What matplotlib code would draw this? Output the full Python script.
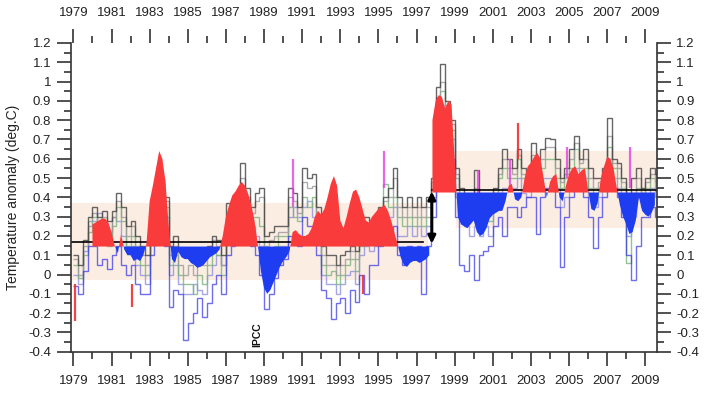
import numpy as np
import matplotlib
matplotlib.use("Agg")
import matplotlib.pyplot as plt
from matplotlib.ticker import MultipleLocator, FuncFormatter

plt.rcParams['font.family'] = ['Liberation Sans', 'DejaVu Sans']

# ---- data ----
# quarterly step series, one row per year 1979..2009 (Q1..Q4)
start_year = 1979
s_black = [
    0.10, 0.05, 0.18, 0.30,   # 1979
    0.35, 0.30, 0.33, 0.28,
    0.33, 0.42, 0.35, 0.25,
    0.28, 0.20, 0.15, 0.10,
    0.35, 0.45, 0.50, 0.40,
    0.15, 0.20, 0.12, 0.10,   # 1984
    0.10, 0.12, 0.08, 0.12,
    0.15, 0.20, 0.18, 0.10,
    0.37, 0.30, 0.35, 0.58,
    0.45, 0.35, 0.42, 0.45,
    0.20, 0.22, 0.25, 0.25,   # 1989
    0.25, 0.45, 0.42, 0.35,
    0.55, 0.50, 0.52, 0.35,
    0.15, 0.10, 0.10, 0.05,
    0.10, 0.12, 0.15, 0.12,
    0.25, 0.30, 0.28, 0.30,   # 1994
    0.35, 0.40, 0.45, 0.55,
    0.40, 0.35, 0.40, 0.35,
    0.40, 0.35, 0.40, 0.50,
    0.97, 1.09, 0.90, 0.80,
    0.55, 0.45, 0.40, 0.35,   # 1999
    0.54, 0.40, 0.37, 0.35,
    0.45, 0.55, 0.65, 0.60,
    0.55, 0.65, 0.55, 0.50,
    0.68, 0.60, 0.65, 0.71,
    0.70, 0.60, 0.50, 0.55,   # 2004
    0.65, 0.72, 0.60, 0.65,
    0.55, 0.50, 0.50, 0.55,
    0.81, 0.60, 0.58, 0.50,
    0.35, 0.50, 0.55, 0.45,
    0.50, 0.55, 0.52, 0.45,   # 2009
]
s_gray = [
    0.08, 0.00, 0.15, 0.28,
    0.32, 0.22, 0.30, 0.22,
    0.30, 0.38, 0.30, 0.20,
    0.25, 0.15, 0.10, 0.05,
    0.32, 0.42, 0.48, 0.38,
    0.10, 0.15, 0.05, 0.00,
    0.05, 0.00, 0.05, 0.05,
    0.10, 0.18, 0.15, 0.05,
    0.30, 0.25, 0.33, 0.50,
    0.40, 0.32, 0.38, 0.40,
    0.15, 0.18, 0.20, 0.22,
    0.22, 0.40, 0.38, 0.32,
    0.48, 0.45, 0.46, 0.30,
    0.10, 0.05, 0.05, 0.00,
    0.05, 0.08, 0.12, 0.08,
    0.20, 0.25, 0.24, 0.25,
    0.32, 0.38, 0.40, 0.50,
    0.35, 0.30, 0.35, 0.30,
    0.35, 0.30, 0.35, 0.48,
    0.92, 1.00, 0.88, 0.78,
    0.52, 0.40, 0.35, 0.32,
    0.45, 0.35, 0.33, 0.32,
    0.42, 0.52, 0.60, 0.55,
    0.52, 0.62, 0.52, 0.48,
    0.62, 0.55, 0.60, 0.66,
    0.66, 0.55, 0.48, 0.52,
    0.60, 0.68, 0.58, 0.60,
    0.50, 0.45, 0.48, 0.52,
    0.72, 0.58, 0.55, 0.48,
    0.30, 0.42, 0.50, 0.42,
    0.48, 0.52, 0.48, 0.42,
]
s_green = [
    0.05, -0.02, 0.10, 0.22,
    0.30, 0.25, 0.20, 0.15,
    0.25, 0.35, 0.28, 0.15,
    0.20, 0.12, 0.05, 0.00,
    0.30, 0.40, 0.45, 0.35,
    0.05, 0.10, 0.00, -0.05,
    -0.05, -0.10, 0.00, -0.05,
    0.05, 0.12, 0.10, 0.00,
    0.25, 0.20, 0.30, 0.40,
    0.35, 0.30, 0.30, 0.25,
    0.05, 0.10, 0.15, 0.20,
    0.20, 0.35, 0.30, 0.28,
    0.40, 0.35, 0.40, 0.25,
    0.05, 0.00, 0.02, -0.05,
    0.00, 0.05, 0.08, 0.02,
    0.15, 0.20, 0.18, 0.20,
    0.30, 0.47, 0.35, 0.40,
    0.30, 0.25, 0.30, 0.25,
    0.30, 0.25, 0.30, 0.45,
    0.85, 0.95, 0.85, 0.75,
    0.50, 0.35, 0.30, 0.30,
    0.35, 0.30, 0.30, 0.28,
    0.40, 0.50, 0.55, 0.50,
    0.50, 0.60, 0.50, 0.45,
    0.55, 0.50, 0.55, 0.60,
    0.60, 0.50, 0.45, 0.50,
    0.55, 0.65, 0.55, 0.55,
    0.45, 0.40, 0.45, 0.50,
    0.66, 0.55, 0.50, 0.45,
    0.06, 0.35, 0.45, 0.40,
    0.45, 0.50, 0.45, 0.40,
]
s_purple = [
    0.00, -0.05, 0.12, 0.25,
    0.28, 0.32, 0.25, 0.20,
    0.30, 0.28, 0.20, 0.12,
    0.15, 0.05, 0.00, -0.05,
    0.25, 0.35, 0.40, 0.30,
    0.00, 0.05, -0.05, -0.10,
    -0.10, -0.05, -0.08, -0.10,
    0.00, 0.05, 0.10, 0.05,
    0.20, 0.25, 0.28, 0.35,
    0.30, 0.25, 0.20, 0.15,
    0.00, 0.05, 0.10, 0.15,
    0.15, 0.30, 0.35, 0.30,
    0.35, 0.38, 0.30, 0.20,
    0.00, -0.05, -0.05, -0.10,
    -0.05, 0.00, 0.02, -0.05,
    0.10, 0.15, 0.12, 0.15,
    0.25, 0.30, 0.30, 0.35,
    0.20, 0.20, 0.25, 0.20,
    0.25, 0.20, 0.25, 0.40,
    0.80, 0.88, 0.80, 0.70,
    0.40, 0.30, 0.25, 0.20,
    0.25, 0.20, 0.25, 0.20,
    0.35, 0.40, 0.45, 0.45,
    0.45, 0.50, 0.42, 0.40,
    0.50, 0.45, 0.50, 0.50,
    0.50, 0.45, 0.35, 0.40,
    0.50, 0.55, 0.50, 0.50,
    0.40, 0.35, 0.40, 0.45,
    0.60, 0.50, 0.45, 0.40,
    0.20, 0.30, 0.40, 0.35,
    0.40, 0.45, 0.40, 0.35,
]
s_blue = [
    -0.06, -0.10, 0.02, 0.15,
    0.15, 0.05, 0.08, 0.03,
    0.10, 0.15, 0.05, 0.00,
    0.05, -0.05, -0.10, -0.10,
    0.10, 0.20, 0.30, 0.15,
    -0.17, -0.08, -0.10, -0.34,
    -0.25, -0.20, -0.12, -0.22,
    -0.15, -0.05, 0.00, -0.10,
    0.10, 0.15, 0.20, 0.25,
    0.20, 0.15, 0.10, 0.00,
    -0.18, -0.10, -0.02, 0.05,
    0.08, 0.20, 0.20, 0.15,
    0.30, 0.25, 0.20, 0.10,
    -0.08, -0.12, -0.23, -0.15,
    -0.12, -0.20, -0.08, -0.14,
    0.00, -0.10, 0.05, 0.05,
    0.15, 0.20, 0.20, 0.25,
    0.10, 0.05, 0.15, 0.10,
    0.15, -0.10, 0.15, 0.30,
    0.75, 0.85, 0.78, 0.60,
    0.30, 0.05, 0.02, 0.10,
    -0.03, 0.10, 0.12, 0.15,
    0.25, 0.30, 0.20, 0.35,
    0.35, 0.30, 0.35, 0.40,
    0.40, 0.21, 0.40, 0.45,
    0.45, 0.35, 0.04, 0.30,
    0.40, 0.45, 0.45, 0.40,
    0.30, 0.14, 0.30, 0.40,
    0.55, 0.45, 0.40, 0.30,
    0.10, -0.03, 0.15, 0.30,
    0.30, 0.35, 0.30, 0.30,
]

# isolated coloured monthly spikes: year, bottom, top
pink_year = [1990.5, 1995.3, 2000.2, 2001.9, 2004.9, 2008.2]
pink_bot = [0.35, 0.45, 0.35, 0.45, 0.50, 0.45]
pink_top = [0.60, 0.64, 0.54, 0.60, 0.66, 0.66]
red_year = [1979.1, 1982.1, 1994.2, 2002.3]
red_bot = [-0.05, -0.05, 0.00, 0.60]
red_top = [-0.24, -0.17, -0.10, 0.785]

# smoothed anomaly (two-monthly), before and after the 1998 step
pre_val = [
    0.26, 0.27, 0.28, 0.29, 0.29, 0.27,   # 1980
    0.22, 0.15, 0.11, 0.21, 0.13, 0.10,
    0.10, 0.07, 0.08, 0.07, 0.10, 0.16,
    0.38, 0.46, 0.55, 0.64, 0.60, 0.48,
    0.25, 0.08, 0.06, 0.12, 0.09, 0.08,
    0.08, 0.06, 0.05, 0.035, 0.04, 0.05,  # 1985
    0.07, 0.09, 0.10, 0.11, 0.13, 0.20,
    0.30, 0.36, 0.41, 0.43, 0.46, 0.48,
    0.46, 0.42, 0.36, 0.28, 0.16, 0.02,
    -0.07, -0.10, -0.08, -0.04, 0.00, 0.04,
    0.07, 0.09, 0.12, 0.22, 0.23, 0.21,   # 1990
    0.20, 0.20, 0.21, 0.24, 0.30, 0.33,
    0.31, 0.34, 0.40, 0.47, 0.51, 0.46,
    0.28, 0.24, 0.30, 0.37, 0.43, 0.44,
    0.40, 0.34, 0.28, 0.27, 0.30, 0.32,
    0.34, 0.35, 0.36, 0.33, 0.28, 0.22,   # 1995
    0.16, 0.09, 0.05, 0.04, 0.06, 0.07,
    0.07, 0.06, 0.07, 0.08, 0.10,
]
pre_year = [1980 + i / 6 for i in range(len(pre_val))]
post_val = [
    0.80,                                 # late 1997
    0.90, 0.93, 0.92, 0.86, 0.90, 0.88,   # 1998
    0.60, 0.30, 0.26, 0.25, 0.24, 0.26,
    0.28, 0.22, 0.20, 0.21, 0.24, 0.29,   # 2000
    0.31, 0.32, 0.33, 0.33, 0.38, 0.46,
    0.47, 0.39, 0.38, 0.40, 0.50, 0.56,
    0.58, 0.61, 0.63, 0.60, 0.50, 0.40,
    0.48, 0.51, 0.52, 0.40, 0.38, 0.46,
    0.52, 0.55, 0.56, 0.52, 0.54, 0.55,   # 2005
    0.44, 0.34, 0.33, 0.37, 0.50, 0.56,
    0.61, 0.60, 0.55, 0.45, 0.36, 0.30,
    0.26, 0.21, 0.22, 0.28, 0.40, 0.33,
    0.31, 0.30, 0.32, 0.36,
]
post_year = [1997 + 5 / 6 + i / 6 for i in range(len(post_val))]
pre_mean, post_mean = 0.17, 0.44
pre_base, post_base = 0.145, 0.425

# ---- figure ----
fig = plt.figure(figsize=(7.08, 3.98), dpi=100)
ax = fig.add_axes([0.0999, 0.1163, 0.828, 0.7757])
ax.set_xlim(1978.86, 2009.61)
ax.set_ylim(-0.4, 1.2)

# +-0.2 bands around the two means
ax.fill_between([1978.86, 1997.6], pre_mean - 0.2, pre_mean + 0.2,
                color='#fcede3', lw=0, zorder=0)
ax.fill_between([1999.08, 2009.61], post_mean - 0.2, post_mean + 0.2,
                color='#fcede3', lw=0, zorder=0)

edges = start_year + 0.25 * np.arange(len(s_black) + 1)
ax.stairs(s_purple, edges, baseline=None, color='#9090e0', lw=1.0, alpha=0.8, zorder=2)
ax.stairs(s_green, edges, baseline=None, color='#78b478', lw=1.0, alpha=0.8, zorder=2)
ax.stairs(s_gray, edges, baseline=None, color='#9a9a9a', lw=1.0, alpha=0.8, zorder=2)
ax.stairs(s_blue, edges, baseline=None, color='#3030e6', lw=1.0, alpha=0.7, zorder=2)
ax.stairs(s_black, edges, baseline=None, color='#404040', lw=1.0, alpha=0.8, zorder=2)
ax.vlines(pink_year, pink_bot, pink_top, color='#e040e0', lw=1.6, alpha=0.8, zorder=2)
ax.vlines(red_year, red_bot, red_top, color='#f03030', lw=1.6, alpha=0.9, zorder=2)

# means
ax.plot([1978.86, 1997.35], [pre_mean, pre_mean], color='black', lw=1.2, zorder=2.5)
ax.plot([1997.8, 2009.61], [post_mean, post_mean], color='black', lw=1.2, zorder=2.5)

# smoothed anomaly coloured above / below the base line
pre_year = np.array(pre_year); pre_val = np.array(pre_val)
post_year = np.array(post_year); post_val = np.array(post_val)
for yrs, vals, base in [(pre_year, pre_val, pre_base), (post_year, post_val, post_base)]:
    ax.fill_between(yrs, base, vals, where=vals >= base, interpolate=True,
                    color='#fa3b3b', lw=0, zorder=3)
    ax.fill_between(yrs, base, vals, where=vals <= base, interpolate=True,
                    color='#1e3cf0', lw=0, zorder=3)

ax.annotate('', xy=(1997.8, 0.43), xytext=(1997.8, 0.16),
            arrowprops=dict(arrowstyle='<|-|>', color='black', lw=2.2,
                            mutation_scale=11, shrinkA=0, shrinkB=0), zorder=5)
ax.text(1988.62, -0.31, 'IPCC', rotation=90, ha='center', va='center',
        fontsize=7.5, fontweight='bold', color='#111111')

# ---- axes styling ----
ax.spines['top'].set_visible(False)
for s in ['left', 'right', 'bottom']:
    ax.spines[s].set_color('#333333')
    ax.spines[s].set_linewidth(1.2)
ax.xaxis.set_major_locator(MultipleLocator(2))
ax.xaxis.set_minor_locator(MultipleLocator(1))
ax.xaxis.set_major_formatter(FuncFormatter(lambda v, p: '%d' % round(v)))
ax.yaxis.set_major_locator(MultipleLocator(0.1))
ax.yaxis.set_minor_locator(MultipleLocator(0.05))
ax.yaxis.set_major_formatter(FuncFormatter(lambda v, p: '%g' % (round(v, 2) + 0.0)))
ax.tick_params(which='both', direction='out', color='#333333', width=1.2,
               top=True, right=True, labeltop=True, labelright=True,
               labelsize=9.5, labelcolor='#222222')
ax.tick_params(which='major', length=10, pad=4)
ax.tick_params(which='minor', length=5)
ax.tick_params(axis='x', which='major', pad=7)
ax.set_xticks(np.arange(1979, 2010, 2))
ax.set_ylabel('Temperature anomaly (deg.C)', fontsize=10, color='#222222', labelpad=6)

fig.savefig('out.png', dpi=100)
